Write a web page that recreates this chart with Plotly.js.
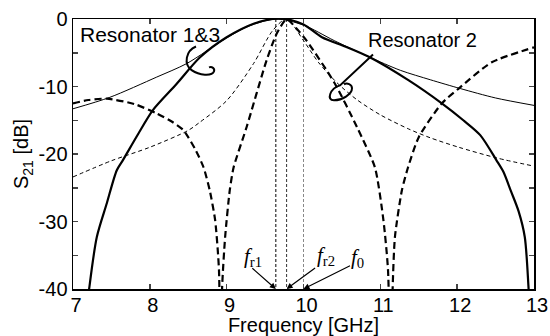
<!DOCTYPE html>
<html>
<head>
<meta charset="utf-8">
<script src="https://cdn.plot.ly/plotly-3.0.1.min.js"></script>
<style>html,body{margin:0;padding:0;background:#fff;}#chart{width:550px;height:336px;}</style>
</head>
<body>
<div id="chart"></div>
<script>
// ---- Data ----
// Thick solid: overall response (Resonator 1&3 family)
const filterFreq = [7.15, 7.21, 7.31, 7.44, 7.57, 7.65, 7.85, 8.04, 8.35, 8.65, 9.0, 9.35, 9.6, 9.76, 10.0, 10.24, 10.55, 10.85, 11.37, 11.8, 12.08, 12.3, 12.51, 12.6, 12.7, 12.8, 12.88, 12.93, 12.96];
const filterS21  = [-46, -40, -32.3, -27.3, -22.4, -20.9, -17.0, -13.5, -9.6, -5.7, -2.7, -0.7, 0, 0, -0.8, -2.7, -4.1, -5.6, -9.1, -12.5, -15.0, -17.2, -20.9, -22.6, -25.5, -28.5, -32.3, -40, -46];

// Thin solid: Resonator 1&3 (unloaded)
const res13Freq = [7.0, 7.48, 8.09, 8.48, 9.0, 9.3, 9.64, 10.0, 10.4, 10.85, 11.26, 11.65, 12.04, 12.5, 13.0];
const res13S21  = [-13.3, -11.6, -8.6, -6.6, -2.8, -1.0, 0, -0.9, -3.2, -5.6, -7.6, -9.0, -10.3, -11.7, -12.8];

// Thin dashed: Resonator 2 (unloaded)
const res2Freq = [7.0, 7.5, 8.0, 8.5, 8.65, 9.0, 9.35, 9.6, 9.78, 10.0, 10.2, 10.45, 10.7, 11.0, 11.37, 11.65, 12.02, 12.52, 13.0];
const res2S21  = [-23.4, -21.0, -19.0, -16.5, -15.3, -12.1, -6.6, -1.7, 0, -3.2, -6.5, -9.6, -12.0, -14.2, -16.3, -17.6, -19.0, -20.6, -21.8];

// Thick dashed: Resonator 2 with transmission zeros
const res2zFreq = [7.0, 7.2, 7.44, 7.8, 8.09, 8.3, 8.44, 8.6, 8.7, 8.78, 8.85, 8.9, 8.92, 8.94, 8.98, 9.04, 9.09, 9.26, 9.52, 9.65, 9.78, 9.9, 10.04, 10.4, 10.7, 10.93, 11.04, 11.1, 11.14, 11.16, 11.19, 11.28, 11.36, 11.5, 11.8, 12.02, 12.45, 13.0];
const res2zS21  = [-12.5, -12.0, -11.8, -12.6, -14.0, -15.3, -16.5, -19.5, -22.0, -25.4, -29.8, -37.2, -60, -40, -32.3, -25.4, -22.0, -16.0, -6.1, -2.2, 0, -1.3, -3.2, -9.4, -16.1, -22.0, -29.8, -37.2, -60, -40, -32.3, -25.4, -22.0, -17.5, -12.5, -10.3, -6.4, -4.2];

// Marker frequencies
const markerNames = ['fr1', 'fr2', 'f0'];
const markerFreqs = [9.64, 9.78, 10.0];
const markerColors = ['#000000', '#333333', '#888888'];

const xTicks = [7, 8, 9, 10, 11, 12, 13];
const yTickVals = [-40, -35, -30, -25, -20, -15, -10, -5, 0];
const yTickText = ['-40', '', '-30', '', '-20', '', '-10', '', '0'];

// ---- geometry helpers (plot area in px) ----
const L = 73, R = 16, T = 18.5, B = 47, W = 550, H = 336;
const pw = W - L - R, ph = H - T - B;
function px2d(x, y) { return [7 + (x - L) / pw * 6, -(y - T) / ph * 40]; }
function pathFromPx(cmds) {
  return cmds.map(c => {
    const l = c[0]; const pts = [];
    for (let i = 1; i < c.length; i += 2) { const d = px2d(c[i], c[i + 1]); pts.push(d[0].toFixed(4) + ',' + d[1].toFixed(4)); }
    return l + ' ' + pts.join(' ');
  }).join(' ');
}

const traces = [];
markerFreqs.forEach((f, i) => {
  traces.push({x: [f, f], y: [0, -40], mode: 'lines', name: markerNames[i],
    line: {color: markerColors[i], width: 1, dash: '3px,2px'}, hoverinfo: 'skip'});
});
traces.push({x: res13Freq, y: res13S21, mode: 'lines', name: 'Resonator 1&3',
  line: {color: '#000', width: 1, shape: 'spline', smoothing: 0.8}});
traces.push({x: res2Freq, y: res2S21, mode: 'lines', name: 'Resonator 2',
  line: {color: '#000', width: 1, dash: '4px,3px', shape: 'spline', smoothing: 0.8}});
traces.push({x: res2zFreq, y: res2zS21, mode: 'lines', name: 'Resonator 2 (zeros)',
  line: {color: '#000', width: 2.2, dash: '7px,4px', shape: 'spline', smoothing: 0.6}});
traces.push({x: filterFreq, y: filterS21, mode: 'lines', name: 'Filter',
  line: {color: '#000', width: 2.2, shape: 'spline', smoothing: 0.8}});

const fnt = {family: 'Arial, "Liberation Sans", sans-serif', size: 20, color: '#000'};
const fntBig = {family: 'Arial, "Liberation Sans", sans-serif', size: 21, color: '#000'};
const serif = {family: '"Times New Roman", "Liberation Serif", serif', size: 21, color: '#000'};

const annotations = [
  {x: px2d(150, 34)[0], y: px2d(150, 34)[1], text: 'Resonator 1&3', showarrow: false, font: fntBig, xanchor: 'center', yanchor: 'middle'},
  {x: px2d(422, 40)[0], y: px2d(422, 40)[1], text: 'Resonator 2', showarrow: false, font: fnt, xanchor: 'center', yanchor: 'middle'},
  {x: px2d(253, 257)[0], y: px2d(253, 257)[1], text: '<i>f</i><sub>r1</sub>', showarrow: false, font: serif, xanchor: 'center', yanchor: 'middle'},
  {x: px2d(326, 256)[0], y: px2d(326, 256)[1], text: '<i>f</i><sub>r2</sub>', showarrow: false, font: serif, xanchor: 'center', yanchor: 'middle'},
  {x: px2d(357, 258)[0], y: px2d(357, 258)[1], text: '<i>f</i><sub>0</sub>', showarrow: false, font: serif, xanchor: 'center', yanchor: 'middle'},
  {x: markerFreqs[0], y: -40, text: '', showarrow: true, ax: -25, ay: -22, arrowhead: 2, arrowsize: 1, arrowwidth: 1.2, arrowcolor: '#000', standoff: 0},
  {x: markerFreqs[1], y: -40, text: '', showarrow: true, ax: 30, ay: -22, arrowhead: 2, arrowsize: 1, arrowwidth: 1.2, arrowcolor: '#000', standoff: 0},
  {x: markerFreqs[2], y: -40, text: '', showarrow: true, ax: 48, ay: -24, arrowhead: 2, arrowsize: 1, arrowwidth: 1.2, arrowcolor: '#000', standoff: 0}
];

const shapes = [
  {type: 'path', xref: 'x', yref: 'y', line: {color: '#000', width: 2},
   path: pathFromPx([['M', 196, 46], ['C', 186, 50, 183, 64, 192, 70], ['C', 199, 75, 212, 76, 214, 71], ['C', 215, 68, 212, 66, 209, 67]])},
  {type: 'path', xref: 'x', yref: 'y', line: {color: '#000', width: 2},
   path: pathFromPx([['M', 373, 54], ['L', 340, 85], ['C', 330, 88, 326, 100, 334, 100], ['C', 342, 100, 352, 94, 352, 88], ['C', 352, 84, 347, 82, 344, 84]])}
];

const layout = {
  width: W, height: H,
  margin: {l: L, r: R, t: T, b: B, pad: 0},
  paper_bgcolor: '#fff', plot_bgcolor: '#fff',
  showlegend: false,
  font: fnt,
  xaxis: {range: [7, 13], tickvals: xTicks, ticktext: xTicks.map(String), ticks: 'inside', ticklen: 5, tickwidth: 1.5,
    showline: true, linewidth: 1.5, linecolor: '#000', mirror: 'ticks', showgrid: false, zeroline: false,
    tickfont: fnt, ticklabelshift: 3, ticklabelstandoff: -3,
    title: {text: 'Frequency [GHz]', font: fnt, standoff: 0}},
  yaxis: {range: [-40, 0], tickvals: yTickVals, ticktext: yTickText, ticks: 'inside', ticklen: 5, tickwidth: 1.5,
    showline: true, linewidth: 1.5, linecolor: '#000', mirror: 'ticks', showgrid: false, zeroline: false,
    tickfont: fnt,
    title: {text: 'S<sub>21</sub> [dB]', font: fnt, standoff: 4}},
  annotations: annotations,
  shapes: shapes
};

Plotly.newPlot('chart', traces, layout, {staticPlot: true, displayModeBar: false});
</script>
</body>
</html>
